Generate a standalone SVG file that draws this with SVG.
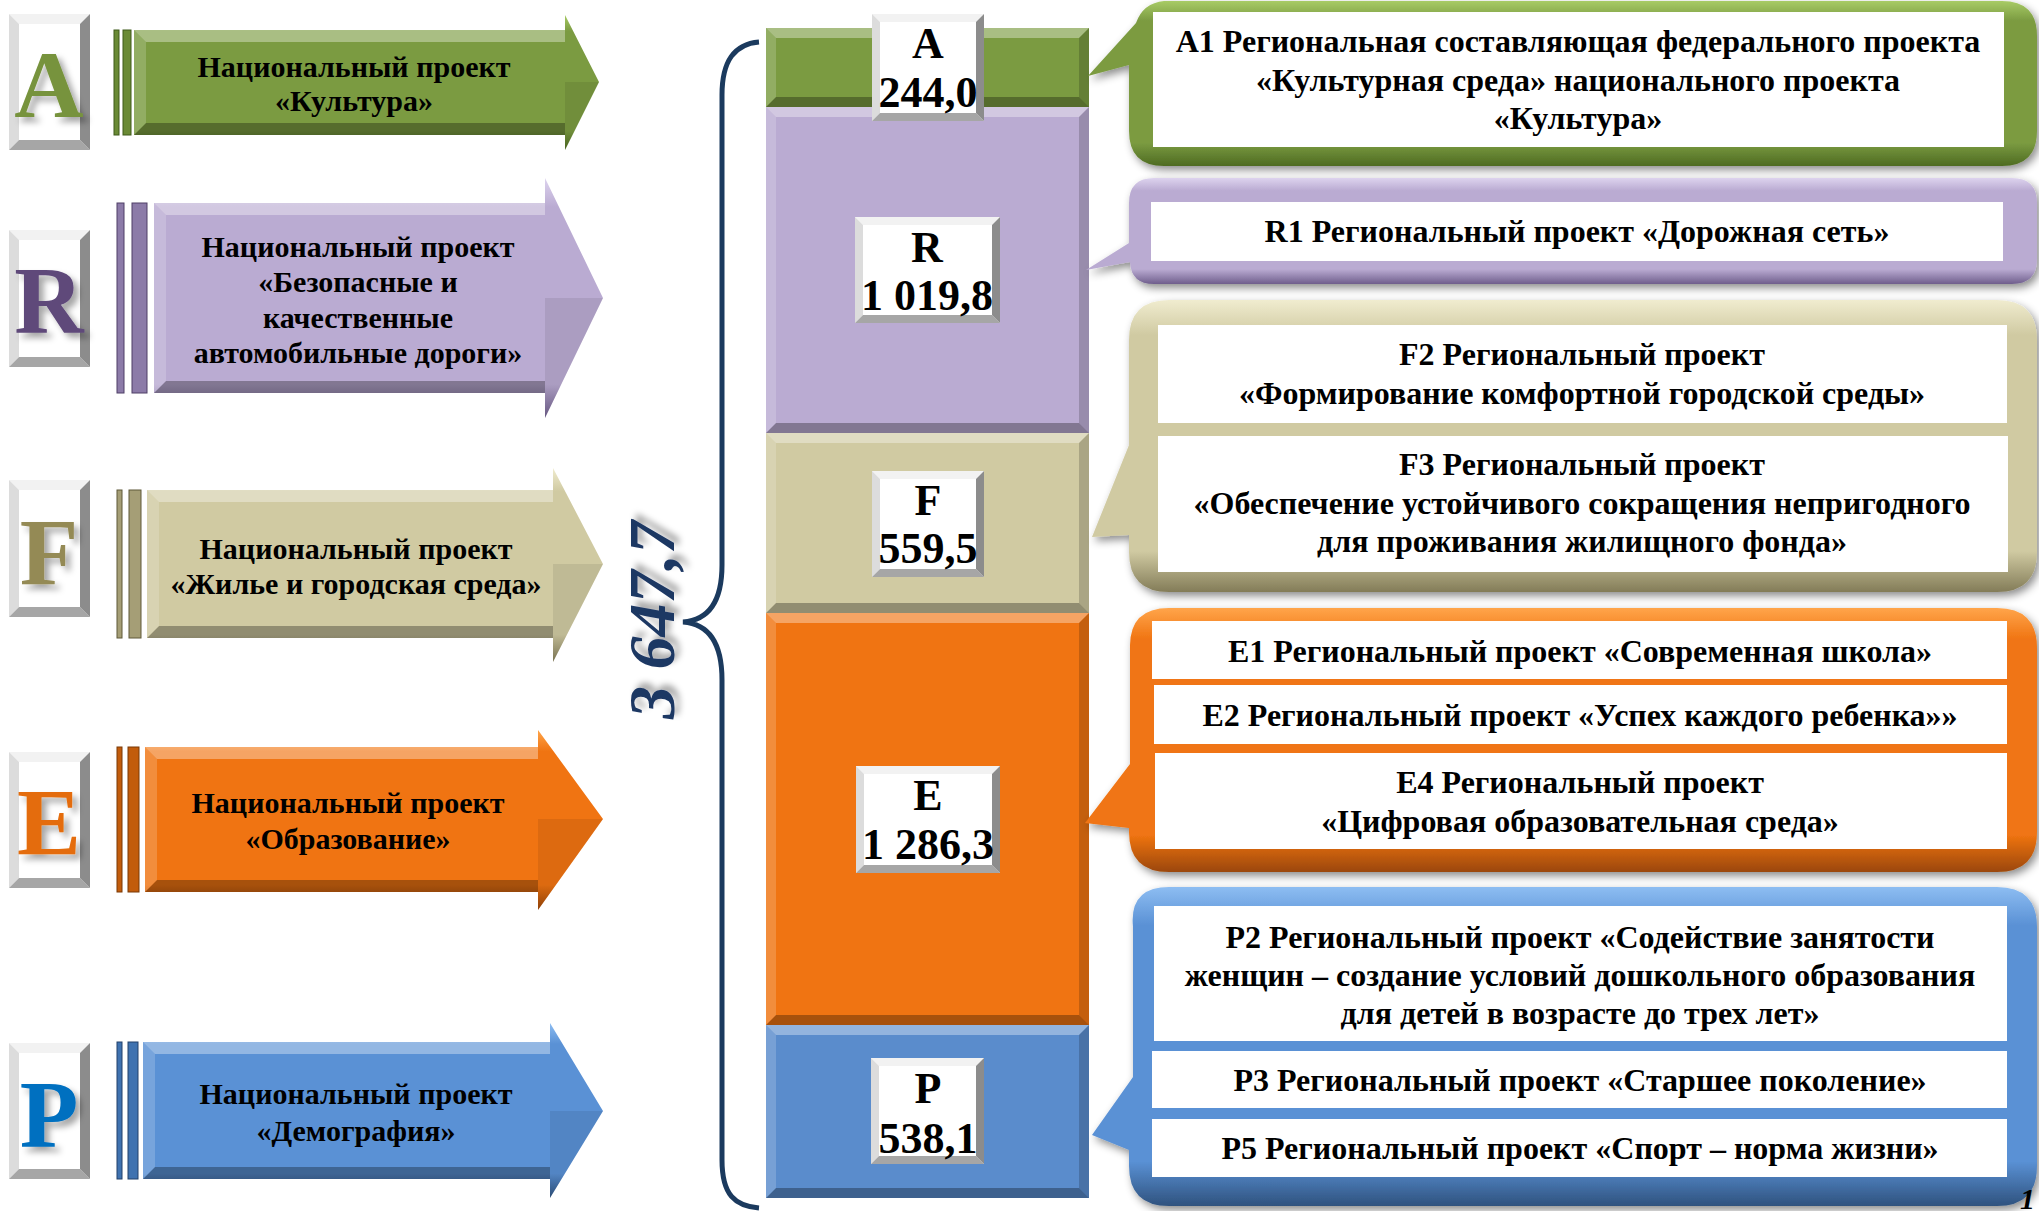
<svg xmlns="http://www.w3.org/2000/svg" width="2039" height="1211" viewBox="0 0 2039 1211">
<defs>
<style>
.t{font-family:"Liberation Serif","Times New Roman",serif;font-weight:bold;fill:#000}
.arr{font-size:30px;text-anchor:middle}
.co{font-size:32px;text-anchor:middle}
.lb{font-size:44px;text-anchor:middle}
.big{font-size:96px;text-anchor:middle}
.hl{fill:#fff;opacity:.35}
.hl2{fill:#fff;opacity:.18}
.sh{fill:#000;opacity:.3}
.sh2{fill:#000;opacity:.18}
.sh3{fill:#000;opacity:.08}
.wb{fill:#fff}
.bt{fill:#f2f2f2}
.bl{fill:#dcdcdc}
.bb{fill:#a6a6a6}
.br{fill:#8c8c8c}
.wi{fill:#fff}
</style>
<linearGradient id="gA" x1="0" y1="0" x2="0" y2="1"><stop offset="0" stop-color="#A8CB66"/><stop offset=".12" stop-color="#7B9B41"/><stop offset=".86" stop-color="#7B9B41"/><stop offset="1" stop-color="#4E6B22"/></linearGradient>
<linearGradient id="gR" x1="0" y1="0" x2="0" y2="1"><stop offset="0" stop-color="#DDD3EE"/><stop offset=".12" stop-color="#BAABD2"/><stop offset=".86" stop-color="#BAABD2"/><stop offset="1" stop-color="#6F5E8C"/></linearGradient>
<linearGradient id="gF" x1="0" y1="0" x2="0" y2="1"><stop offset="0" stop-color="#F0ECCF"/><stop offset=".12" stop-color="#D0CAA2"/><stop offset=".86" stop-color="#D0CAA2"/><stop offset="1" stop-color="#837C58"/></linearGradient>
<linearGradient id="gE" x1="0" y1="0" x2="0" y2="1"><stop offset="0" stop-color="#FFA54A"/><stop offset=".12" stop-color="#F07412"/><stop offset=".86" stop-color="#F07412"/><stop offset="1" stop-color="#9B4708"/></linearGradient>
<linearGradient id="gP" x1="0" y1="0" x2="0" y2="1"><stop offset="0" stop-color="#8DBDF2"/><stop offset=".12" stop-color="#5A91D5"/><stop offset=".86" stop-color="#5A91D5"/><stop offset="1" stop-color="#2F527E"/></linearGradient>
<filter id="ds" x="-5%" y="-10%" width="112%" height="130%"><feDropShadow dx="3" dy="4" stdDeviation="4" flood-color="#000" flood-opacity=".45"/></filter>
<filter id="ls" x="-20%" y="-20%" width="150%" height="150%"><feDropShadow dx="5" dy="5" stdDeviation="3" flood-color="#000" flood-opacity=".35"/></filter>
</defs>
<rect width="2039" height="1211" fill="#fff"/>

<!-- Left letter boxes -->
<g id="letter-A">
<rect class="wb" x="9" y="14" width="81" height="136"/>
<polygon class="bt" points="9,14 90,14 80,24 19,24"/>
<polygon class="bl" points="9,14 19,24 19,140 9,150"/>
<polygon class="bb" points="9,150 90,150 80,140 19,140"/>
<polygon class="br" points="90,14 90,150 80,140 80,24"/>
<text class="t big" x="49" y="117" style="fill:#77933C" filter="url(#ls)">A</text>
</g>
<g id="letter-R">
<rect class="wb" x="9" y="230" width="81" height="137"/>
<polygon class="bt" points="9,230 90,230 80,240 19,240"/>
<polygon class="bl" points="9,230 19,240 19,357 9,367"/>
<polygon class="bb" points="9,367 90,367 80,357 19,357"/>
<polygon class="br" points="90,230 90,367 80,357 80,240"/>
<text class="t big" x="49" y="333" style="fill:#5F497A" filter="url(#ls)">R</text>
</g>
<g id="letter-F">
<rect class="wb" x="9" y="480" width="81" height="137"/>
<polygon class="bt" points="9,480 90,480 80,490 19,490"/>
<polygon class="bl" points="9,480 19,490 19,607 9,617"/>
<polygon class="bb" points="9,617 90,617 80,607 19,607"/>
<polygon class="br" points="90,480 90,617 80,607 80,490"/>
<text class="t big" x="49" y="585" style="fill:#948A54" filter="url(#ls)">F</text>
</g>
<g id="letter-E">
<rect class="wb" x="9" y="752" width="81" height="136"/>
<polygon class="bt" points="9,752 90,752 80,762 19,762"/>
<polygon class="bl" points="9,752 19,762 19,878 9,888"/>
<polygon class="bb" points="9,888 90,888 80,878 19,878"/>
<polygon class="br" points="90,752 90,888 80,878 80,762"/>
<text class="t big" x="49" y="855" style="fill:#E46C0A" filter="url(#ls)">E</text>
</g>
<g id="letter-P">
<rect class="wb" x="9" y="1043" width="81" height="136"/>
<polygon class="bt" points="9,1043 90,1043 80,1053 19,1053"/>
<polygon class="bl" points="9,1043 19,1053 19,1169 9,1179"/>
<polygon class="bb" points="9,1179 90,1179 80,1169 19,1169"/>
<polygon class="br" points="90,1043 90,1179 80,1169 80,1053"/>
<text class="t big" x="49" y="1147" style="fill:#0070C0" filter="url(#ls)">P</text>
</g>

<!-- Left arrows -->
<g id="arrow-A">
<rect x="114" y="30" width="5" height="105" fill="#6A8A35" stroke="#3F5A1A"/>
<rect x="123" y="30" width="8" height="105" fill="#6A8A35" stroke="#3F5A1A"/>
<path d="M134,30 H565 V15 L599,82 L565,150 V135 H134 Z" fill="url(#gA)"/>
<polygon class="hl" points="134,30 565,30 565,42 146,42"/>
<polygon class="sh" points="134,135 565,135 565,123 146,123"/>
<polygon class="hl2" points="134,30 146,42 146,123 134,135"/>
<polygon class="sh3" points="565,82 599,82 565,150"/>
<text class="t arr" x="354" y="77">Национальный проект</text>
<text class="t arr" x="354" y="111">«Культура»</text>
</g>
<g id="arrow-R">
<rect x="117" y="203" width="7" height="190" fill="#8C7BA8" stroke="#4E3F66"/>
<rect x="132" y="203" width="15" height="190" fill="#8C7BA8" stroke="#4E3F66"/>
<path d="M154,203 H545 V178 L603,298 L545,418 V393 H154 Z" fill="url(#gR)"/>
<polygon class="hl" points="154,203 545,203 545,215 166,215"/>
<polygon class="sh" points="154,393 545,393 545,381 166,381"/>
<polygon class="hl2" points="154,203 166,215 166,381 154,393"/>
<polygon class="sh3" points="545,298 603,298 545,418"/>
<text class="t arr" x="358" y="257">Национальный проект</text>
<text class="t arr" x="358" y="292">«Безопасные и</text>
<text class="t arr" x="358" y="328">качественные</text>
<text class="t arr" x="358" y="363">автомобильные дороги»</text>
</g>
<g id="arrow-F">
<rect x="117" y="490" width="5" height="148" fill="#A59E76" stroke="#5E5838"/>
<rect x="129" y="490" width="12" height="148" fill="#A59E76" stroke="#5E5838"/>
<path d="M147,490 H553 V468 L603,564 L553,662 V638 H147 Z" fill="url(#gF)"/>
<polygon class="hl" points="147,490 553,490 553,502 159,502"/>
<polygon class="sh" points="147,638 553,638 553,626 159,626"/>
<polygon class="hl2" points="147,490 159,502 159,626 147,638"/>
<polygon class="sh3" points="553,564 603,564 553,662"/>
<text class="t arr" x="356" y="559">Национальный проект</text>
<text class="t arr" x="356" y="594">«Жилье и городская среда»</text>
</g>
<g id="arrow-E">
<rect x="117" y="747" width="5" height="145" fill="#C25C0C" stroke="#7A3804"/>
<rect x="128" y="747" width="11" height="145" fill="#C25C0C" stroke="#7A3804"/>
<path d="M145,747 H538 V730 L603,819 L538,910 V892 H145 Z" fill="url(#gE)"/>
<polygon class="hl" points="145,747 538,747 538,759 157,759"/>
<polygon class="sh" points="145,892 538,892 538,880 157,880"/>
<polygon class="hl2" points="145,747 157,759 157,880 145,892"/>
<polygon class="sh3" points="538,819 603,819 538,910"/>
<text class="t arr" x="348" y="813">Национальный проект</text>
<text class="t arr" x="348" y="849">«Образование»</text>
</g>
<g id="arrow-P">
<rect x="117" y="1042" width="5" height="137" fill="#3F72B0" stroke="#22416A"/>
<rect x="128" y="1042" width="10" height="137" fill="#3F72B0" stroke="#22416A"/>
<path d="M143,1042 H550 V1023 L603,1111 L550,1198 V1179 H143 Z" fill="url(#gP)"/>
<polygon class="hl" points="143,1042 550,1042 550,1054 155,1054"/>
<polygon class="sh" points="143,1179 550,1179 550,1167 155,1167"/>
<polygon class="hl2" points="143,1042 155,1054 155,1167 143,1179"/>
<polygon class="sh3" points="550,1111 603,1111 550,1198"/>
<text class="t arr" x="356" y="1104">Национальный проект</text>
<text class="t arr" x="356" y="1141">«Демография»</text>
</g>

<!-- Connectors: brace -->
<g id="connectors">
<path d="M759,42 C735,44 722,60 722,95 V565 C722,600 710,620 683,622 C710,624 722,644 722,680 V1160 C722,1195 735,1206 759,1208" fill="none" stroke="#1B3A5E" stroke-width="5"/>
</g>
<g id="total">
<text class="t" transform="translate(674,620) rotate(-90)" style="font-size:66px;font-style:italic;text-anchor:middle;fill:#1F3864" filter="url(#ls)">3 647,7</text>
</g>

<!-- Central stacked bar -->
<g id="seg-A">
<rect x="766" y="28" width="323" height="79" fill="#7B9B41"/>
<polygon class="hl" points="766,28 1089,28 1079,38 776,38"/>
<polygon class="sh" points="766,107 1089,107 1079,97 776,97"/>
<polygon class="sh2" points="1089,28 1089,107 1079,97 1079,38"/>
<polygon class="hl2" points="766,28 776,38 776,97 766,107"/>
</g>
<g id="seg-R">
<rect x="766" y="107" width="323" height="326" fill="#BAABD2"/>
<polygon class="hl" points="766,107 1089,107 1079,117 776,117"/>
<polygon class="sh" points="766,433 1089,433 1079,423 776,423"/>
<polygon class="sh2" points="1089,107 1089,433 1079,423 1079,117"/>
<polygon class="hl2" points="766,107 776,117 776,423 766,433"/>
</g>
<g id="seg-F">
<rect x="766" y="433" width="323" height="180" fill="#D0CAA2"/>
<polygon class="hl" points="766,433 1089,433 1079,443 776,443"/>
<polygon class="sh" points="766,613 1089,613 1079,603 776,603"/>
<polygon class="sh2" points="1089,433 1089,613 1079,603 1079,443"/>
<polygon class="hl2" points="766,433 776,443 776,603 766,613"/>
</g>
<g id="seg-E">
<rect x="766" y="613" width="323" height="412" fill="#F07412"/>
<polygon class="hl" points="766,613 1089,613 1079,623 776,623"/>
<polygon class="sh" points="766,1025 1089,1025 1079,1015 776,1015"/>
<polygon class="sh2" points="1089,613 1089,1025 1079,1015 1079,623"/>
<polygon class="hl2" points="766,613 776,623 776,1015 766,1025"/>
</g>
<g id="seg-P">
<rect x="766" y="1025" width="323" height="173" fill="#5A8CCC"/>
<polygon class="hl" points="766,1025 1089,1025 1079,1035 776,1035"/>
<polygon class="sh" points="766,1198 1089,1198 1079,1188 776,1188"/>
<polygon class="sh2" points="1089,1025 1089,1198 1079,1188 1079,1035"/>
<polygon class="hl2" points="766,1025 776,1035 776,1188 766,1198"/>
</g>

<!-- Bar labels -->
<g id="label-A">
<rect class="wb" x="872" y="14" width="112" height="107"/>
<polygon class="bt" points="872,14 984,14 976,22 880,22"/>
<polygon class="bl" points="872,14 880,22 880,113 872,121"/>
<polygon class="bb" points="872,121 984,121 976,113 880,113"/>
<polygon class="br" points="984,14 984,121 976,113 976,22"/>
<text class="t lb" x="928" y="58">A</text>
<text class="t lb" x="928" y="107">244,0</text>
</g>
<g id="label-R">
<rect class="wb" x="855" y="217" width="145" height="106"/>
<polygon class="bt" points="855,217 1000,217 992,225 863,225"/>
<polygon class="bl" points="855,217 863,225 863,315 855,323"/>
<polygon class="bb" points="855,323 1000,323 992,315 863,315"/>
<polygon class="br" points="1000,217 1000,323 992,315 992,225"/>
<text class="t lb" x="927" y="262">R</text>
<text class="t lb" x="927" y="310">1 019,8</text>
</g>
<g id="label-F">
<rect class="wb" x="872" y="471" width="112" height="106"/>
<polygon class="bt" points="872,471 984,471 976,479 880,479"/>
<polygon class="bl" points="872,471 880,479 880,569 872,577"/>
<polygon class="bb" points="872,577 984,577 976,569 880,569"/>
<polygon class="br" points="984,471 984,577 976,569 976,479"/>
<text class="t lb" x="928" y="515">F</text>
<text class="t lb" x="928" y="563">559,5</text>
</g>
<g id="label-E">
<rect class="wb" x="856" y="766" width="144" height="107"/>
<polygon class="bt" points="856,766 1000,766 992,774 864,774"/>
<polygon class="bl" points="856,766 864,774 864,865 856,873"/>
<polygon class="bb" points="856,873 1000,873 992,865 864,865"/>
<polygon class="br" points="1000,766 1000,873 992,865 992,774"/>
<text class="t lb" x="928" y="810">E</text>
<text class="t lb" x="928" y="859">1 286,3</text>
</g>
<g id="label-P">
<rect class="wb" x="871" y="1058" width="113" height="106"/>
<polygon class="bt" points="871,1058 984,1058 976,1066 879,1066"/>
<polygon class="bl" points="871,1058 879,1066 879,1156 871,1164"/>
<polygon class="bb" points="871,1164 984,1164 976,1156 879,1156"/>
<polygon class="br" points="984,1058 984,1164 976,1156 976,1066"/>
<text class="t lb" x="928" y="1103">P</text>
<text class="t lb" x="928" y="1153">538,1</text>
</g>

<!-- Callouts -->
<g id="callout-A">
<path d="M1164,1 H2002 Q2037,1 2037,36 V131 Q2037,166 2002,166 H1164 Q1129,166 1129,131 V65 L1088,76 L1136,23 Q1143,3 1164,1 Z" fill="url(#gA)" filter="url(#ds)"/>
<rect class="wi" x="1153" y="12" width="851" height="135"/>
<text class="t co" x="1578" y="52">А1 Региональная составляющая федерального проекта</text>
<text class="t co" x="1578" y="91">«Культурная среда» национального проекта</text>
<text class="t co" x="1578" y="129">«Культура»</text>
</g>
<g id="callout-R">
<path d="M1154,178 H2012 Q2037,178 2037,203 V259 Q2037,284 2012,284 H1154 Q1131,284 1130,262 L1086,270 L1129,243 V203 Q1129,178 1154,178 Z" fill="url(#gR)" filter="url(#ds)"/>
<rect class="wi" x="1151" y="202" width="852" height="59"/>
<text class="t co" x="1577" y="242">R1 Региональный проект «Дорожная сеть»</text>
</g>
<g id="callout-F">
<path d="M1169,300 H1997 Q2037,300 2037,340 V552 Q2037,592 1997,592 H1169 Q1129,592 1129,552 V535 L1092,537 L1129,445 V340 Q1129,300 1169,300 Z" fill="url(#gF)" filter="url(#ds)"/>
<rect class="wi" x="1158" y="325" width="849" height="98"/>
<rect class="wi" x="1158" y="436" width="850" height="136"/>
<text class="t co" x="1582" y="365">F2 Региональный проект</text>
<text class="t co" x="1582" y="404">«Формирование комфортной городской среды»</text>
<text class="t co" x="1582" y="475">F3 Региональный проект</text>
<text class="t co" x="1582" y="514">«Обеспечение устойчивого сокращения непригодного</text>
<text class="t co" x="1582" y="552">для проживания жилищного фонда»</text>
</g>
<g id="callout-E">
<path d="M1169,608 H1997 Q2037,608 2037,648 V832 Q2037,872 1997,872 H1169 Q1129,872 1129,832 V828 L1085,823 L1130,764 V648 Q1129,608 1169,608 Z" fill="url(#gE)" filter="url(#ds)"/>
<rect class="wi" x="1152" y="621" width="855" height="58"/>
<rect class="wi" x="1154" y="685" width="853" height="59"/>
<rect class="wi" x="1155" y="753" width="852" height="96"/>
<text class="t co" x="1580" y="662">E1 Региональный проект «Современная школа»</text>
<text class="t co" x="1580" y="726">E2 Региональный проект «Успех каждого ребенка»»</text>
<text class="t co" x="1580" y="793">E4 Региональный проект</text>
<text class="t co" x="1580" y="832">«Цифровая образовательная среда»</text>
</g>
<g id="callout-P">
<path d="M1169,887 H1997 Q2037,887 2037,927 V1166 Q2037,1206 1997,1206 H1169 Q1129,1206 1129,1166 V1150 L1092,1135 L1133,1077 V927 Q1129,887 1169,887 Z" fill="url(#gP)" filter="url(#ds)"/>
<rect class="wi" x="1154" y="906" width="853" height="135"/>
<rect class="wi" x="1152" y="1051" width="855" height="57"/>
<rect class="wi" x="1152" y="1119" width="855" height="58"/>
<text class="t co" x="1580" y="948">P2 Региональный проект «Содействие занятости</text>
<text class="t co" x="1580" y="986">женщин – создание условий дошкольного образования</text>
<text class="t co" x="1580" y="1024">для детей в возрасте до трех лет»</text>
<text class="t co" x="1580" y="1091">P3 Региональный проект «Старшее поколение»</text>
<text class="t co" x="1580" y="1159">P5 Региональный проект «Спорт – норма жизни»</text>
</g>
<text class="t" x="2020" y="1209" style="font-size:30px;font-style:italic">1</text>
</svg>
